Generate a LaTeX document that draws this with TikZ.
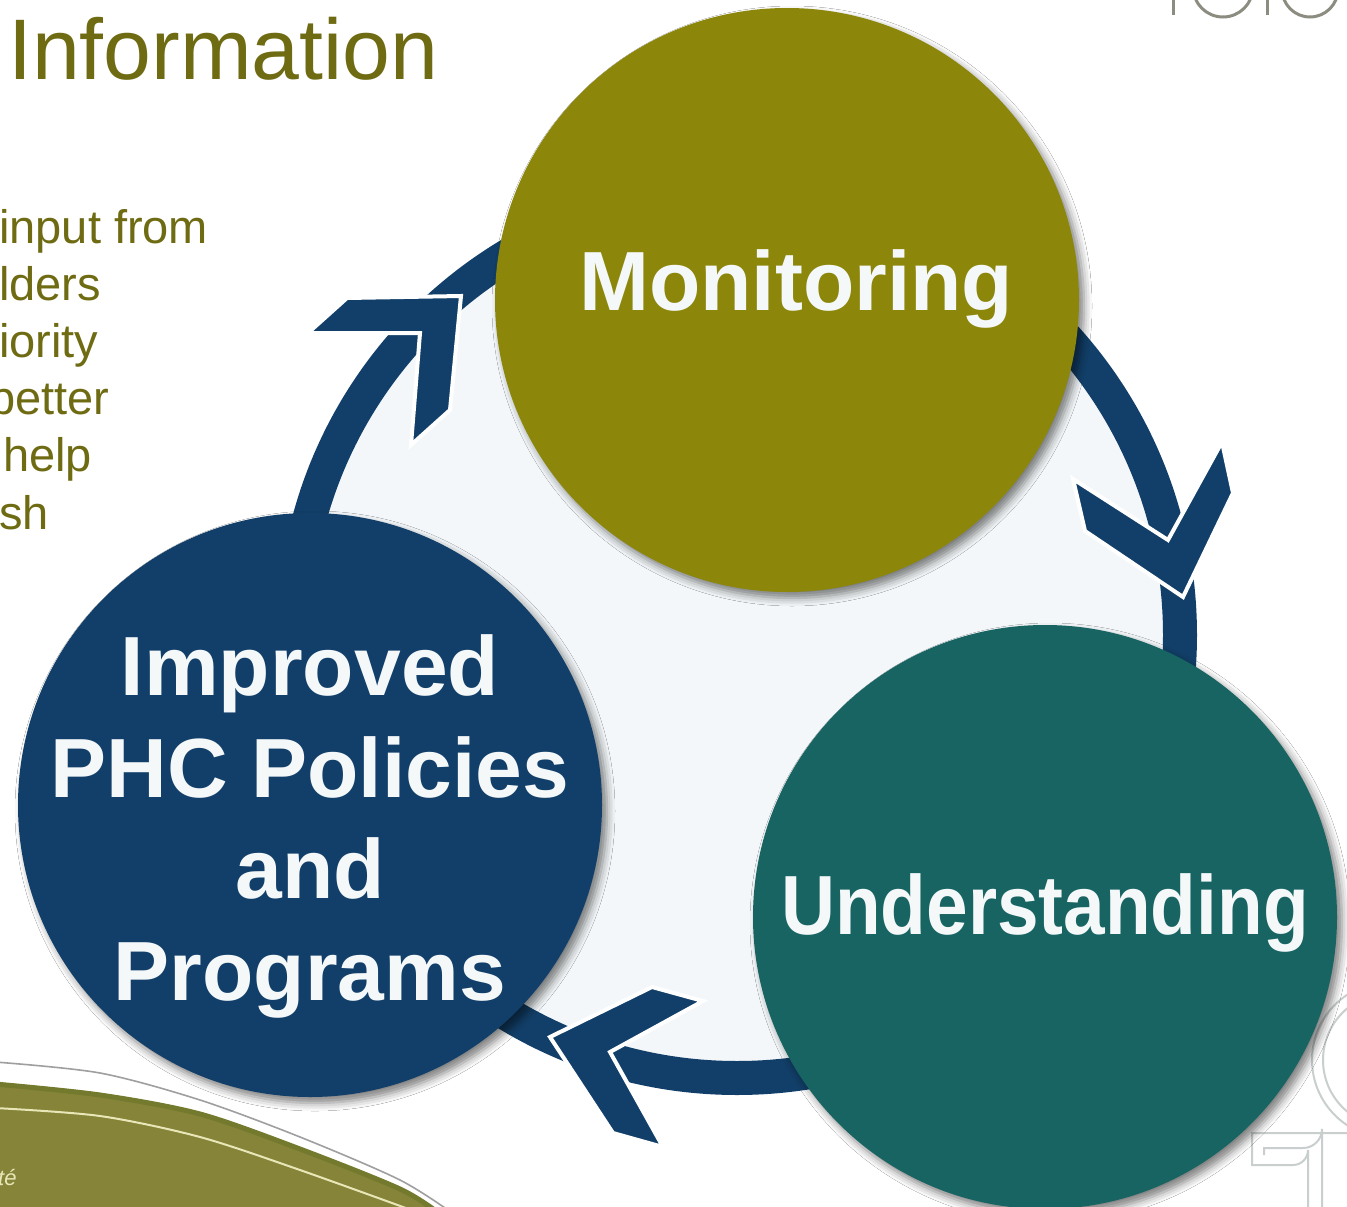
\documentclass[tikz,border=0pt]{standalone}
\usepackage{fontspec}
\setmainfont{Liberation Sans}
\usetikzlibrary{shadows.blur}
\definecolor{navy}{HTML}{123F69}
\definecolor{olivec}{HTML}{8C870B}
\definecolor{tealc}{HTML}{176462}
\definecolor{lightc}{HTML}{F3F7F9}
\definecolor{textc}{HTML}{F4F8F9}
\definecolor{titlec}{HTML}{6E6B13}
\definecolor{swooshc}{HTML}{868438}
\definecolor{swooshedge}{HTML}{737A2E}
\definecolor{creamc}{HTML}{E9E6B8}
\definecolor{logogray}{HTML}{8D8C80}
\definecolor{logolight}{HTML}{C9CFCF}
\begin{document}
\begin{tikzpicture}[x=1pt,y=-1pt,
  bigcirc/.style={circle, minimum size=584pt, inner sep=0pt,
    blur shadow={shadow xshift=5pt, shadow yshift=-6pt, shadow blur radius=8pt, shadow opacity=50}},
  lbl/.style={anchor=base, text=textc, inner sep=0pt,
    font=\fontsize{84}{100}\selectfont\bfseries},
  chev/.style={fill=navy, draw=white, line width=4pt, line join=miter},
  bul/.style={anchor=base west, inner sep=0pt, text=titlec,
    font=\fontsize{47}{57}\selectfont}]
\path[use as bounding box] (0,0) rectangle (1347,1207);
\clip (0,0) rectangle (1347,1207);
\fill[white] (0,0) rectangle (1347,1207);

% background decorations
\node[anchor=base west, inner sep=0pt, text=titlec,
  font=\fontsize{86}{100}\selectfont] (title) at (8,80) {Information};
\node[bul] (b1) at (-1,243) {input from};
\node[bul] (b2) at (-1,300) {lders};
\node[bul] (b3) at (-1,357) {iority};
\node[bul] (b4) at (-11,414) {better};
\node[bul] (b5) at (3,471) {help};
\node[bul] (b6) at (-1,529) {sh};

% top-right logo fragment
\begin{scope}[draw=logogray, line width=3pt]
  \draw (1173,-5) -- (1173,15);
  \draw (1223,-13) circle (30);
  \draw (1267,-5) -- (1267,15);
  \draw (1310,-11) circle (28);
\end{scope}

% bottom-right logo fragment
\begin{scope}[draw=logolight, line width=2pt]
  \draw (1390,1060) circle (78);
  \draw (1390,1060) circle (67);
  \draw (1360,1133) -- (1252,1133) -- (1252,1165) -- (1293,1165)
        arc[start angle=90, end angle=0, radius=15] -- (1308,1215);
  \draw (1264,1155) -- (1264,1148) -- (1303,1148)
        arc[start angle=90, end angle=0, radius=19] -- (1322,1215);
\end{scope}

% bottom-left swoosh
\fill[swooshc] plot[smooth] coordinates {(-5,1082) (100,1093) (200,1112) (300,1147) (400,1187) (440,1212)} -- (-5,1212) -- cycle;
\draw[swooshedge, line width=5pt] plot[smooth] coordinates {(-5,1084) (100,1095) (200,1114) (300,1149) (400,1189) (440,1214)};
\draw[gray!75, line width=1.6pt] plot[smooth] coordinates {(-5,1062) (100,1073) (200,1100) (300,1137) (400,1180) (455,1215)};
\draw[creamc, line width=2pt] plot[smooth] coordinates {(-5,1108) (100,1116) (200,1137) (300,1170) (425,1215)};
\node[anchor=base west, inner sep=0pt, text=creamc, font=\fontsize{22}{24}\selectfont\itshape] (sante) at (-2,1185) {té};

% cycle ring
\fill[lightc] (737,635) circle (426);
\fill[navy, even odd rule] (737,635) circle (460) circle (426);

% chevrons
\filldraw[chev] (461,296) -- (347,298) -- (308,333) -- (420,333) -- (411,445) -- (450,410) -- cycle;
\filldraw[chev] (1183,597) -- (1085,531) -- (1073,479) -- (1168,540) -- (1222,442) -- (1233,493) -- cycle;
\filldraw[chev] (550,1037) -- (652,987) -- (703,1001) -- (610,1052) -- (663,1147) -- (613,1133) -- cycle;

% circles
\node[bigcirc, fill=olivec] (mon) at (787,300) {};
\node[bigcirc, fill=tealc] (und) at (1045,917) {};
\node[bigcirc, fill=navy] (imp) at (310,805) {};

% labels
\node[lbl] (monT) at (796,310) {Monitoring};
\node[lbl] (undT) at (1045,934) {\scalebox{0.89}[1]{Understanding}};
\node[lbl] (imp1) at (310,695) {Improved};
\node[lbl] (imp2) at (310,797) {PHC Policies};
\node[lbl] (imp3) at (310,898) {and};
\node[lbl] (imp4) at (310,1000) {Programs};
\end{tikzpicture}
\end{document}
